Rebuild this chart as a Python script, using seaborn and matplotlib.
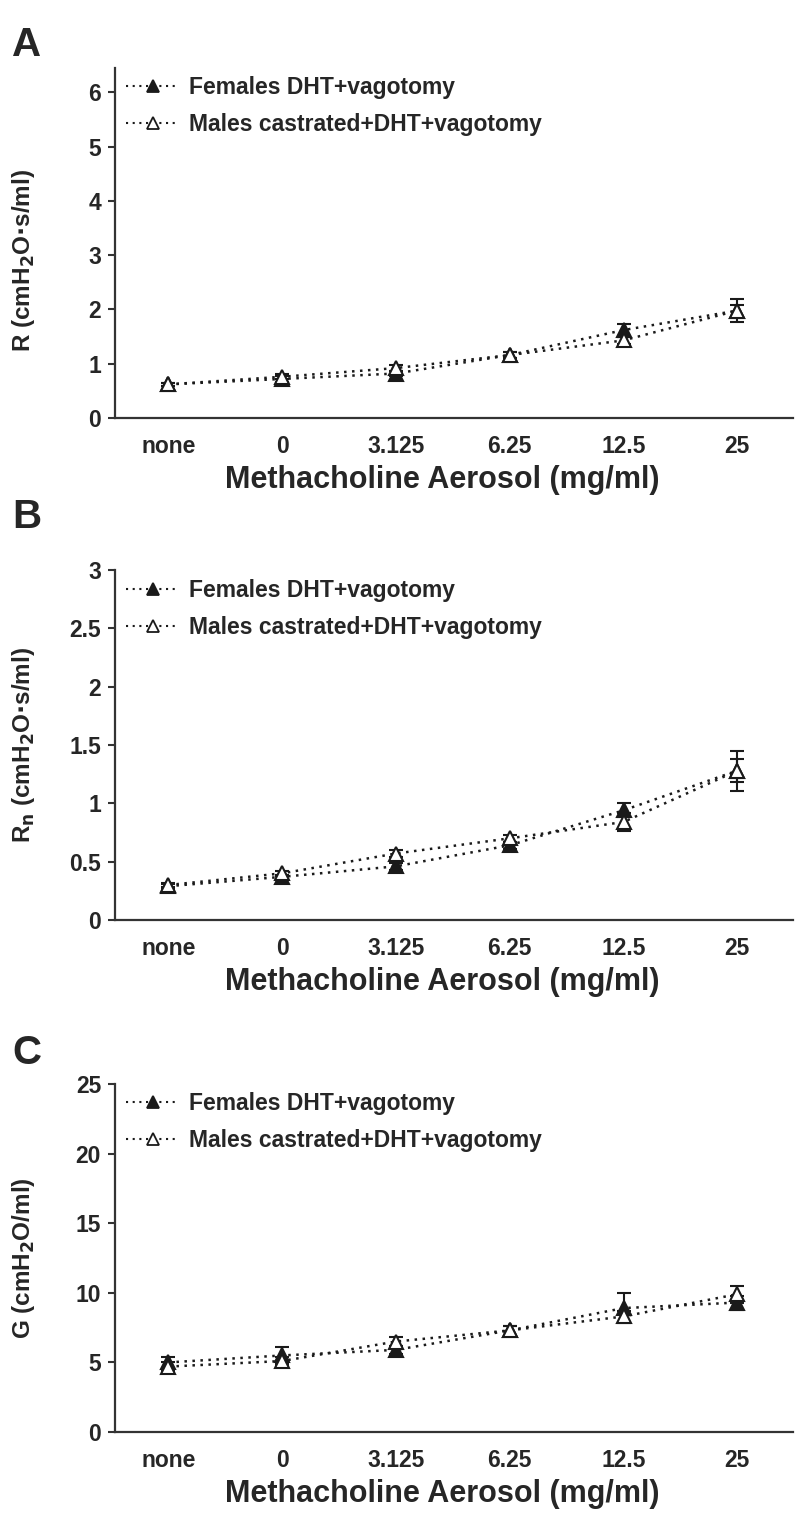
import numpy as np
import pandas as pd
import matplotlib
matplotlib.use("Agg")
import matplotlib.pyplot as plt
from matplotlib.lines import Line2D
import seaborn as sns

sns.set_theme(style="white")
plt.rcParams['font.family'] = ['Liberation Sans', 'DejaVu Sans']
plt.rcParams['font.weight'] = 'bold'
plt.rcParams['mathtext.default'] = 'bf'

categories = ["none", "0", "3.125", "6.25", "12.5", "25"]
series_names = ["Females DHT+vagotomy", "Males castrated+DHT+vagotomy"]

# Panel A: R
R_fem = [0.62, 0.72, 0.82, 1.16, 1.62, 1.98]
R_fem_err = [0.03, 0.05, 0.05, 0.05, 0.12, 0.10]
R_mal = [0.62, 0.76, 0.92, 1.16, 1.43, 1.98]
R_mal_err = [0.03, 0.05, 0.05, 0.05, 0.06, 0.22]

# Panel B: Rn
Rn_fem = [0.29, 0.37, 0.46, 0.64, 0.94, 1.28]
Rn_fem_err = [0.02, 0.02, 0.03, 0.03, 0.06, 0.10]
Rn_mal = [0.30, 0.40, 0.57, 0.70, 0.84, 1.28]
Rn_mal_err = [0.02, 0.02, 0.03, 0.03, 0.08, 0.17]

# Panel C: G
G_fem = [5.0, 5.5, 5.9, 7.3, 8.9, 9.3]
G_fem_err = [0.4, 0.6, 0.3, 0.3, 1.1, 0.5]
G_mal = [4.7, 5.1, 6.5, 7.3, 8.3, 9.9]
G_mal_err = [0.3, 0.3, 0.3, 0.3, 0.4, 0.6]

W, H = 800, 1522
fig = plt.figure(figsize=(W / 100, H / 100), dpi=100)

def px_axes(l, t, r, b):
    return fig.add_axes([l / W, 1 - b / H, (r - l) / W, (b - t) / H])

panels = [
    dict(letter="A", box=(115, 68, 793, 418), ylim=(0, 6.45), yticks=[0, 1, 2, 3, 4, 5, 6],
         ylabels=["0", "1", "2", "3", "4", "5", "6"],
         ylabel=r"R (cmH$_\mathbf{2}$O$\cdot$s/ml)", fem=(R_fem, R_fem_err), mal=(R_mal, R_mal_err),
         letter_y=45, leg_y=87, ylab_y=0.45),
    dict(letter="B", box=(115, 570, 793, 920), ylim=(0, 3.0), yticks=[0, 0.5, 1, 1.5, 2, 2.5, 3],
         ylabels=["0", "0.5", "1", "1.5", "2", "2.5", "3"],
         ylabel=r"R$_\mathbf{n}$ (cmH$_\mathbf{2}$O$\cdot$s/ml)", fem=(Rn_fem, Rn_fem_err), mal=(Rn_mal, Rn_mal_err),
         letter_y=517, leg_y=590, ylab_y=0.5),
    dict(letter="C", box=(115, 1084, 793, 1432), ylim=(0, 25), yticks=[0, 5, 10, 15, 20, 25],
         ylabels=["0", "5", "10", "15", "20", "25"],
         ylabel=r"G (cmH$_\mathbf{2}$O/ml)", fem=(G_fem, G_fem_err), mal=(G_mal, G_mal_err),
         letter_y=1053, leg_y=1103, ylab_y=0.5),
]

dark = "#1a1a1a"
dots = (0, (1, 2.2))

for p in panels:
    ax = px_axes(*p["box"])
    pos = np.arange(len(categories))
    for (vals, errs), face, z in [(p["fem"], dark, 3), (p["mal"], "white", 4)]:
        df = pd.DataFrame({"pos": pos, "val": vals})
        ax.errorbar(pos, vals, yerr=errs, fmt="none", ecolor=dark, elinewidth=1.5,
                    capsize=5, capthick=1.5, zorder=2)
        sns.lineplot(data=df, x="pos", y="val", ax=ax, color=dark, linestyle=dots, linewidth=1.8,
                     marker="^", markersize=10, markerfacecolor=face, markeredgecolor=dark,
                     markeredgewidth=1.5, zorder=z, legend=False)
    ax.set_xlim(-0.47, 5.49)
    ax.set_ylim(*p["ylim"])
    ax.set_xticks(pos)
    ax.set_xticklabels(categories, fontsize=16.5, fontweight="bold")
    ax.set_yticks(p["yticks"])
    ax.set_yticklabels(p["ylabels"], fontsize=16.5, fontweight="bold")
    ax.tick_params(axis="x", length=0, pad=12)
    ax.tick_params(axis="y", length=5, width=1.5, direction="out", pad=5, left=True, color="#333333")
    for s in ["top", "right"]:
        ax.spines[s].set_visible(False)
    for s in ["left", "bottom"]:
        ax.spines[s].set_color("#333333")
        ax.spines[s].set_linewidth(1.6)
    ax.set_xlabel("Methacholine Aerosol (mg/ml)", fontsize=22, fontweight="bold")
    ax.xaxis.set_label_coords(0.482, -0.135)
    ax.set_ylabel(p["ylabel"], fontsize=17.5, fontweight="bold")
    ax.yaxis.set_label_coords(-0.115, p["ylab_y"])
    handles = [
        Line2D([], [], color=dark, linestyle=dots, linewidth=1.5, marker="^", markersize=9,
               markerfacecolor=dark, markeredgecolor=dark, markeredgewidth=1.3),
        Line2D([], [], color=dark, linestyle=dots, linewidth=1.5, marker="^", markersize=9,
               markerfacecolor="white", markeredgecolor=dark, markeredgewidth=1.3),
    ]
    l, t, r, b = p["box"]
    ax.legend(handles, series_names, loc="upper left",
              bbox_to_anchor=((117 - l) / (r - l), 1 - (p["leg_y"] - 20 - t) / (b - t)),
              frameon=False, handlelength=2.3, handletextpad=0.45, labelspacing=0.6,
              prop=dict(size=16.5, weight="bold"), borderaxespad=0)
    fig.text(12 / W, 1 - p["letter_y"] / H, p["letter"], fontsize=29, fontweight="bold",
             va="center", ha="left")

fig.savefig("out.png", dpi=100)
